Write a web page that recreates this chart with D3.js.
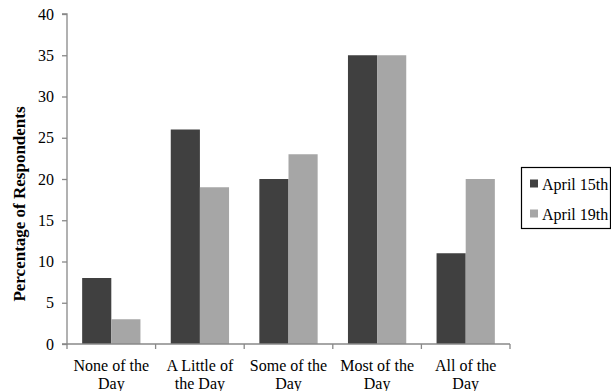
<!DOCTYPE html>
<html><head><meta charset="utf-8">
<script src="https://cdn.jsdelivr.net/npm/d3@7"></script>
<style>body{margin:0;background:#fff}svg{display:block}text{font-family:"Liberation Serif","Times New Roman",serif}</style>
</head><body><svg id="c" width="611" height="391"></svg>
<script>
const categories = [["None of the","Day"],["A Little of","the Day"],["Some of the","Day"],["Most of the","Day"],["All of the","Day"]];
const seriesNames = ["April 15th","April 19th"];
const april15 = [8, 26, 20, 35, 11];
const april19 = [3, 19, 23, 35, 20];
const yTicks = [0,5,10,15,20,25,30,35,40];
const colors = ["#404040","#a6a6a6"];

(function(){
const svg = d3.select("#c");
const mL = 67, mR = 510, mT = 14, mB = 344;
const x = d3.scaleBand().domain(d3.range(categories.length)).range([mL, mR]).paddingInner(0).paddingOuter(0);
const x1 = d3.scaleBand().domain([0,1]).range([0, x.bandwidth()]).paddingOuter(0.52).paddingInner(0);
const y = d3.scaleLinear().domain([0,40]).range([mB, mT]);

const series = [april15, april19];
series.forEach((vals, si) => {
  svg.append("g").selectAll("rect").data(vals).join("rect")
    .attr("x", (d,i) => x(i) + x1(si))
    .attr("y", d => y(d))
    .attr("width", x1.bandwidth())
    .attr("height", d => y(0) - y(d))
    .attr("fill", colors[si]);
});

const ya = svg.append("g").attr("transform", `translate(${mL},0)`)
  .call(d3.axisLeft(y).tickValues(yTicks).tickSize(5).tickPadding(8));
ya.attr("font-family", null);
ya.select(".domain").attr("stroke", "#888").attr("stroke-width", 1.3).attr("d", `M-5,${mT}H0V${mB}H-5`);
ya.selectAll(".tick line").attr("stroke", "#888").attr("stroke-width", 1.3);
ya.selectAll(".tick text").attr("font-size", 16).attr("fill", "#000");

const xa = svg.append("g").attr("transform", `translate(0,${mB})`);
xa.append("line").attr("x1", mL).attr("x2", mR).attr("stroke", "#888").attr("stroke-width", 1.3);
const bounds = d3.range(categories.length + 1).map(i => i < categories.length ? x(i) : mR);
xa.selectAll(".tk").data(bounds).join("line")
  .attr("x1", d => d).attr("x2", d => d).attr("y1", 0).attr("y2", 5)
  .attr("stroke", "#888").attr("stroke-width", 1.3);
categories.forEach((lines, i) => {
  const t = xa.append("text").attr("text-anchor", "middle").attr("font-size", 16).attr("fill", "#000")
    .attr("x", x(i) + x.bandwidth()/2);
  lines.forEach((l, k) => t.append("tspan").attr("x", x(i) + x.bandwidth()/2).attr("y", 27 + k*18).text(l));
});

svg.append("text").attr("transform", `translate(25,204) rotate(-90)`)
  .attr("text-anchor", "middle").attr("font-size", 17).attr("font-weight", "bold").attr("fill", "#000")
  .text("Percentage of Respondents");

const lg = svg.append("g");
lg.append("rect").attr("x", 521.5).attr("y", 167.5).attr("width", 89).attr("height", 61)
  .attr("fill", "#fff").attr("stroke", "#000").attr("stroke-width", 1.2);
seriesNames.forEach((n, i) => {
  const cy = 183.5 + i*30;
  lg.append("rect").attr("x", 530).attr("y", cy - 4).attr("width", 8).attr("height", 8).attr("fill", colors[i]);
  lg.append("text").attr("x", 542).attr("y", cy + 6).attr("font-size", 16).attr("fill", "#000").text(n);
});
})();
</script></body></html>
